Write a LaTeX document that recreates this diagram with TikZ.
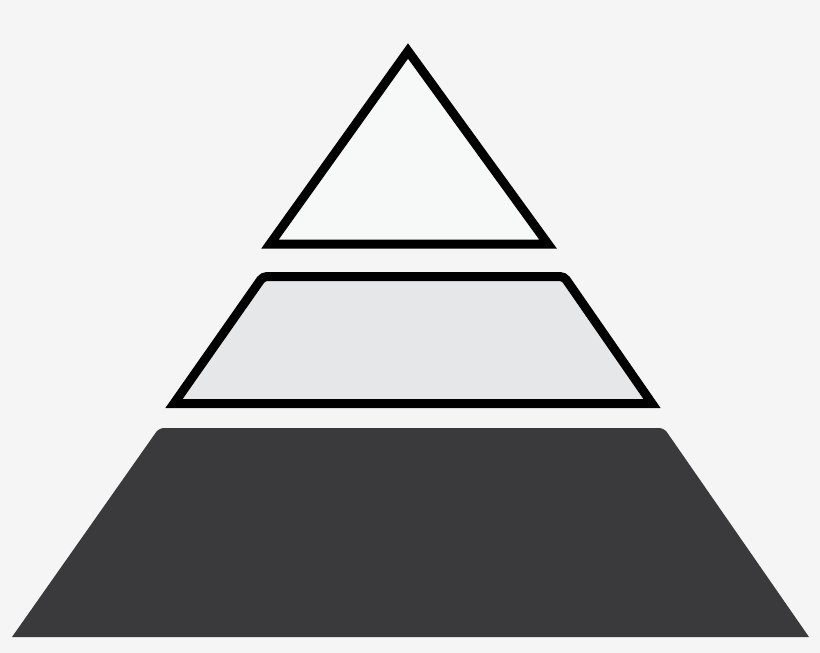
\documentclass[tikz,border=0pt]{standalone}
\definecolor{bgpaper}{HTML}{F5F5F5}
\definecolor{toplayer}{HTML}{F7F8F8}
\definecolor{midlayer}{HTML}{E6E7E8}
\definecolor{baselayer}{HTML}{3A3A3C}
\begin{document}
\begin{tikzpicture}[x=1pt,y=-1pt]
\useasboundingbox (0,0) rectangle (820,653);
\fill[bgpaper] (0,0) rectangle (820,653);
% top
\draw[line width=9pt,miter limit=20,fill=toplayer] (408,51) -- (548,244) -- (270,244) -- cycle;
% middle
\draw[line width=9pt,fill=midlayer] (174,403.5) [rounded corners=4pt] -- (263,276.5) -- (564,276.5) [sharp corners] -- (652,403.5) -- cycle;
% base
\fill[baselayer] (12,637) [rounded corners=5pt] -- (159,428) -- (664,428) [sharp corners] -- (809,637) -- cycle;
\end{tikzpicture}
\end{document}
